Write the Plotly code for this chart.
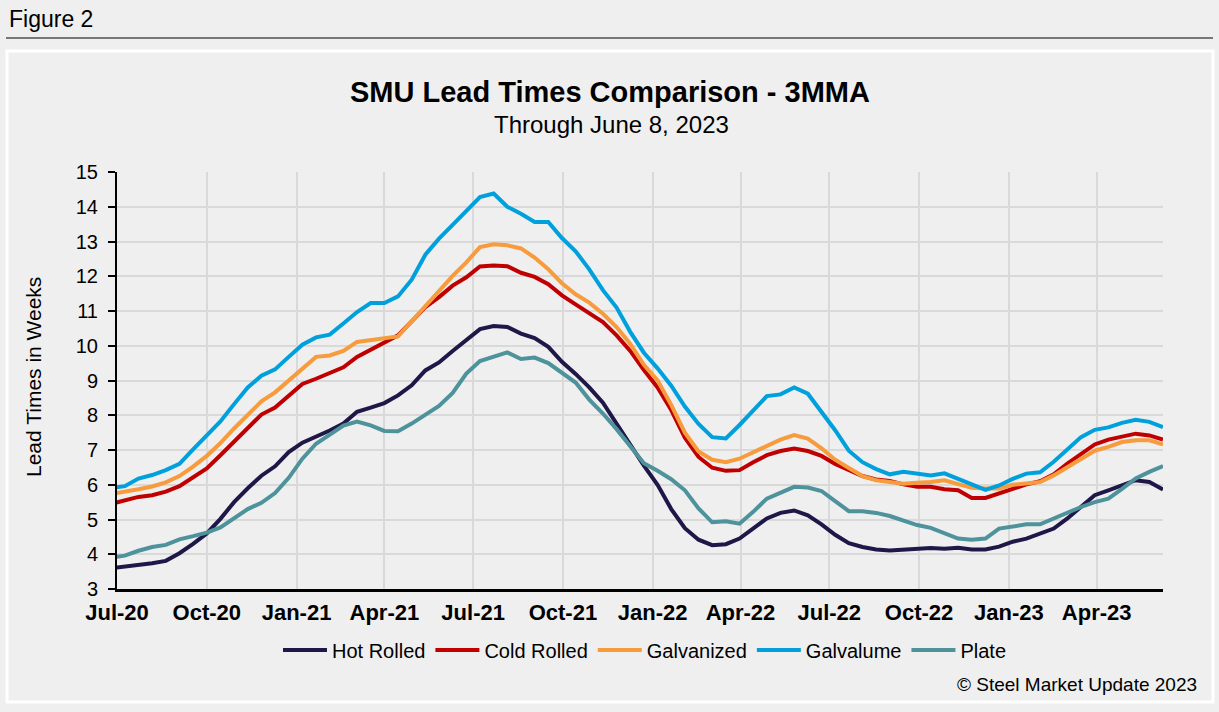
import plotly.graph_objects as go

dates = [
    "2020-06-25", "2020-07-09", "2020-07-23", "2020-08-06", "2020-08-20", "2020-09-03", "2020-09-17",
    "2020-10-01", "2020-10-15", "2020-10-29", "2020-11-12", "2020-11-26", "2020-12-10", "2020-12-24",
    "2021-01-07", "2021-01-21", "2021-02-04", "2021-02-18", "2021-03-04", "2021-03-18", "2021-04-01",
    "2021-04-15", "2021-04-29", "2021-05-13", "2021-05-27", "2021-06-10", "2021-06-24", "2021-07-08",
    "2021-07-22", "2021-08-05", "2021-08-19", "2021-09-02", "2021-09-16", "2021-09-30", "2021-10-14",
    "2021-10-28", "2021-11-11", "2021-11-25", "2021-12-09", "2021-12-23", "2022-01-06", "2022-01-20",
    "2022-02-03", "2022-02-17", "2022-03-03", "2022-03-17", "2022-03-31", "2022-04-14", "2022-04-28",
    "2022-05-12", "2022-05-26", "2022-06-09", "2022-06-23", "2022-07-07", "2022-07-21", "2022-08-04",
    "2022-08-18", "2022-09-01", "2022-09-15", "2022-09-29", "2022-10-13", "2022-10-27", "2022-11-10",
    "2022-11-24", "2022-12-08", "2022-12-22", "2023-01-05", "2023-01-19", "2023-02-02", "2023-02-16",
    "2023-03-02", "2023-03-16", "2023-03-30", "2023-04-13", "2023-04-27", "2023-05-11", "2023-05-25",
    "2023-06-08",
]

hot_rolled = [
    3.60, 3.64, 3.68, 3.74, 3.81, 4.03, 4.30, 4.60, 5.02, 5.50, 5.90, 6.26, 6.53, 6.94,
    7.21, 7.37, 7.56, 7.76, 8.10, 8.22, 8.35, 8.57, 8.86, 9.29, 9.52, 9.85, 10.17, 10.48,
    10.57, 10.54, 10.35, 10.22, 9.97, 9.54, 9.19, 8.80, 8.36, 7.76, 7.12, 6.55, 6.00, 5.30,
    4.75, 4.42, 4.26, 4.29, 4.45, 4.73, 5.03, 5.19, 5.26, 5.12, 4.86, 4.56, 4.32, 4.21,
    4.14, 4.11, 4.13, 4.16, 4.18, 4.16, 4.19, 4.14, 4.14, 4.22, 4.36, 4.45, 4.58, 4.74,
    5.03, 5.36, 5.70, 5.84, 5.98, 6.13, 6.08, 5.86,
]

cold_rolled = [
    5.45, 5.55, 5.65, 5.70, 5.80, 5.96, 6.20, 6.47, 6.85, 7.25, 7.65, 8.02, 8.22, 8.55,
    8.90, 9.05, 9.22, 9.38, 9.68, 9.88, 10.11, 10.30, 10.70, 11.11, 11.40, 11.73, 11.97, 12.28,
    12.31, 12.29, 12.10, 11.98, 11.77, 11.45, 11.19, 10.92, 10.68, 10.30, 9.85, 9.30, 8.80, 8.15,
    7.35, 6.80, 6.49, 6.40, 6.42, 6.65, 6.85, 6.97, 7.04, 6.97, 6.83, 6.60, 6.42, 6.25,
    6.15, 6.11, 6.01, 5.94, 5.94, 5.87, 5.84, 5.62, 5.62, 5.76, 5.88, 6.01, 6.10, 6.30,
    6.61, 6.90, 7.16, 7.30, 7.39, 7.47, 7.42, 7.30,
]

galvanized = [
    5.73, 5.79, 5.87, 5.95, 6.07, 6.25, 6.52, 6.83, 7.20, 7.62, 8.02, 8.40, 8.66, 9.00,
    9.37, 9.68, 9.72, 9.85, 10.11, 10.16, 10.23, 10.27, 10.70, 11.14, 11.55, 12.01, 12.40, 12.84,
    12.92, 12.89, 12.80, 12.54, 12.20, 11.80, 11.48, 11.24, 10.92, 10.54, 10.05, 9.45, 9.00, 8.30,
    7.50, 6.96, 6.72, 6.65, 6.75, 6.94, 7.14, 7.30, 7.43, 7.33, 7.05, 6.72, 6.48, 6.25,
    6.13, 6.08, 6.03, 6.06, 6.08, 6.13, 6.03, 5.91, 5.89, 5.89, 6.00, 6.05, 6.08, 6.27,
    6.51, 6.75, 6.98, 7.09, 7.23, 7.28, 7.28, 7.16,
]

galvalume = [
    5.90, 5.96, 6.18, 6.28, 6.42, 6.60, 7.02, 7.42, 7.82, 8.32, 8.80, 9.14, 9.32, 9.68,
    10.03, 10.24, 10.32, 10.64, 10.97, 11.23, 11.23, 11.42, 11.90, 12.62, 13.08, 13.48, 13.88, 14.28,
    14.38, 14.00, 13.80, 13.56, 13.56, 13.10, 12.72, 12.20, 11.60, 11.10, 10.40, 9.80, 9.35, 8.85,
    8.25, 7.75, 7.37, 7.33, 7.72, 8.12, 8.55, 8.60, 8.80, 8.62, 8.10, 7.57, 6.98, 6.65,
    6.45, 6.30, 6.37, 6.32, 6.27, 6.33, 6.17, 5.98, 5.85, 5.98, 6.17, 6.32, 6.36, 6.66,
    7.00, 7.37, 7.58, 7.65, 7.78, 7.87, 7.81, 7.66,
]

plate = [
    3.90, 3.96, 4.10, 4.21, 4.27, 4.43, 4.52, 4.62, 4.77, 5.03, 5.30, 5.48, 5.76, 6.20,
    6.75, 7.18, 7.44, 7.70, 7.82, 7.71, 7.55, 7.54, 7.76, 8.00, 8.27, 8.64, 9.20, 9.56,
    9.70, 9.81, 9.62, 9.66, 9.50, 9.21, 8.94, 8.45, 8.05, 7.60, 7.10, 6.62, 6.40, 6.16,
    5.84, 5.32, 4.92, 4.95, 4.88, 5.22, 5.60, 5.76, 5.94, 5.92, 5.82, 5.53, 5.24, 5.24,
    5.19, 5.10, 4.98, 4.84, 4.76, 4.59, 4.45, 4.42, 4.45, 4.74, 4.80, 4.86, 4.86, 5.03,
    5.22, 5.36, 5.50, 5.60, 5.88, 6.18, 6.37, 6.54,
]

tick_dates = ["2020-07-01", "2020-10-01", "2021-01-01", "2021-04-01", "2021-07-01", "2021-10-01",
              "2022-01-01", "2022-04-01", "2022-07-01", "2022-10-01", "2023-01-01", "2023-04-01"]
tick_labels = ["Jul-20", "Oct-20", "Jan-21", "Apr-21", "Jul-21", "Oct-21",
               "Jan-22", "Apr-22", "Jul-22", "Oct-22", "Jan-23", "Apr-23"]

series = [
    ("Hot Rolled", hot_rolled, "#1e1748"),
    ("Cold Rolled", cold_rolled, "#c00000"),
    ("Galvanized", galvanized, "#f79b3c"),
    ("Galvalume", galvalume, "#00a0dd"),
    ("Plate", plate, "#4e939b"),
]

W, H = 1219, 712
L, R, T, B = 117, 1163, 172, 589
FONT = "Arial, Liberation Sans, sans-serif"


def px(x):
    return (x - L) / (R - L)


def py(y):
    return (B - y) / (B - T)


fig = go.Figure()
for name, vals, color in series:
    fig.add_trace(go.Scatter(x=dates, y=vals, name=name, mode="lines",
                             line=dict(color=color, width=4)))

fig.update_layout(
    width=W, height=H,
    margin=dict(l=L, r=W - R, t=T, b=H - B, pad=0),
    paper_bgcolor="#efefef", plot_bgcolor="#efefef",
    font=dict(family=FONT, color="#000000", size=20),
    showlegend=True,
    legend=dict(orientation="h", x=px(645), y=py(650), xanchor="center", yanchor="middle",
                font=dict(size=20, family=FONT), bgcolor="rgba(0,0,0,0)",
                itemwidth=44, tracegroupgap=0),
    xaxis=dict(type="date", range=["2020-07-01", "2023-06-08"],
               tickvals=tick_dates, ticktext=["<b>%s</b>" % t for t in tick_labels],
               tickfont=dict(size=22, family=FONT, color="#000"),
               showgrid=True, gridcolor="#d9d9d9", gridwidth=2,
               showline=True, linecolor="#000", linewidth=3,
               ticks="", zeroline=False, ticklabelstandoff=2),
    yaxis=dict(range=[3, 15], dtick=1, tick0=3,
               tickfont=dict(size=20, family=FONT, color="#000"),
               showgrid=True, gridcolor="#d9d9d9", gridwidth=2,
               showline=True, linecolor="#000", linewidth=2,
               ticks="outside", ticklen=7, tickwidth=2, tickcolor="#000",
               zeroline=False, ticklabelstandoff=6),
    hovermode=False,
)

annotations = [
    dict(text="Figure 2", x=px(7), y=py(19), xanchor="left", yanchor="middle",
         font=dict(size=23, family=FONT)),
    dict(text="<b>SMU Lead Times Comparison - 3MMA</b>", x=px(610), y=py(92),
         xanchor="center", yanchor="middle", font=dict(size=29, family=FONT)),
    dict(text="Through June 8, 2023", x=px(611), y=py(124),
         xanchor="center", yanchor="middle", font=dict(size=24, family=FONT)),
    dict(text="Lead Times in Weeks", x=px(33), y=py(377), textangle=-90,
         xanchor="center", yanchor="middle", font=dict(size=21, family=FONT)),
    dict(text="© Steel Market Update 2023", x=px(1199), y=py(684),
         xanchor="right", yanchor="middle", font=dict(size=19, family=FONT)),
]
for a in annotations:
    a.update(xref="paper", yref="paper", showarrow=False)
fig.update_layout(annotations=annotations)

fig.update_layout(shapes=[
    dict(type="line", xref="paper", yref="paper", x0=px(6), x1=px(1213), y0=py(38), y1=py(38),
         line=dict(color="#000", width=1.2), layer="below"),
    dict(type="rect", xref="paper", yref="paper", x0=px(7), x1=px(1213), y0=py(51), y1=py(702),
         line=dict(color="#ffffff", width=3), fillcolor="rgba(0,0,0,0)", layer="below"),
])

fig.write_html(
    "out.html",
    config={"displayModeBar": False, "staticPlot": True},
    post_script="document.body.style.margin='0px';document.body.style.background='#efefef';"
                "document.body.style.overflow='hidden';",
)
